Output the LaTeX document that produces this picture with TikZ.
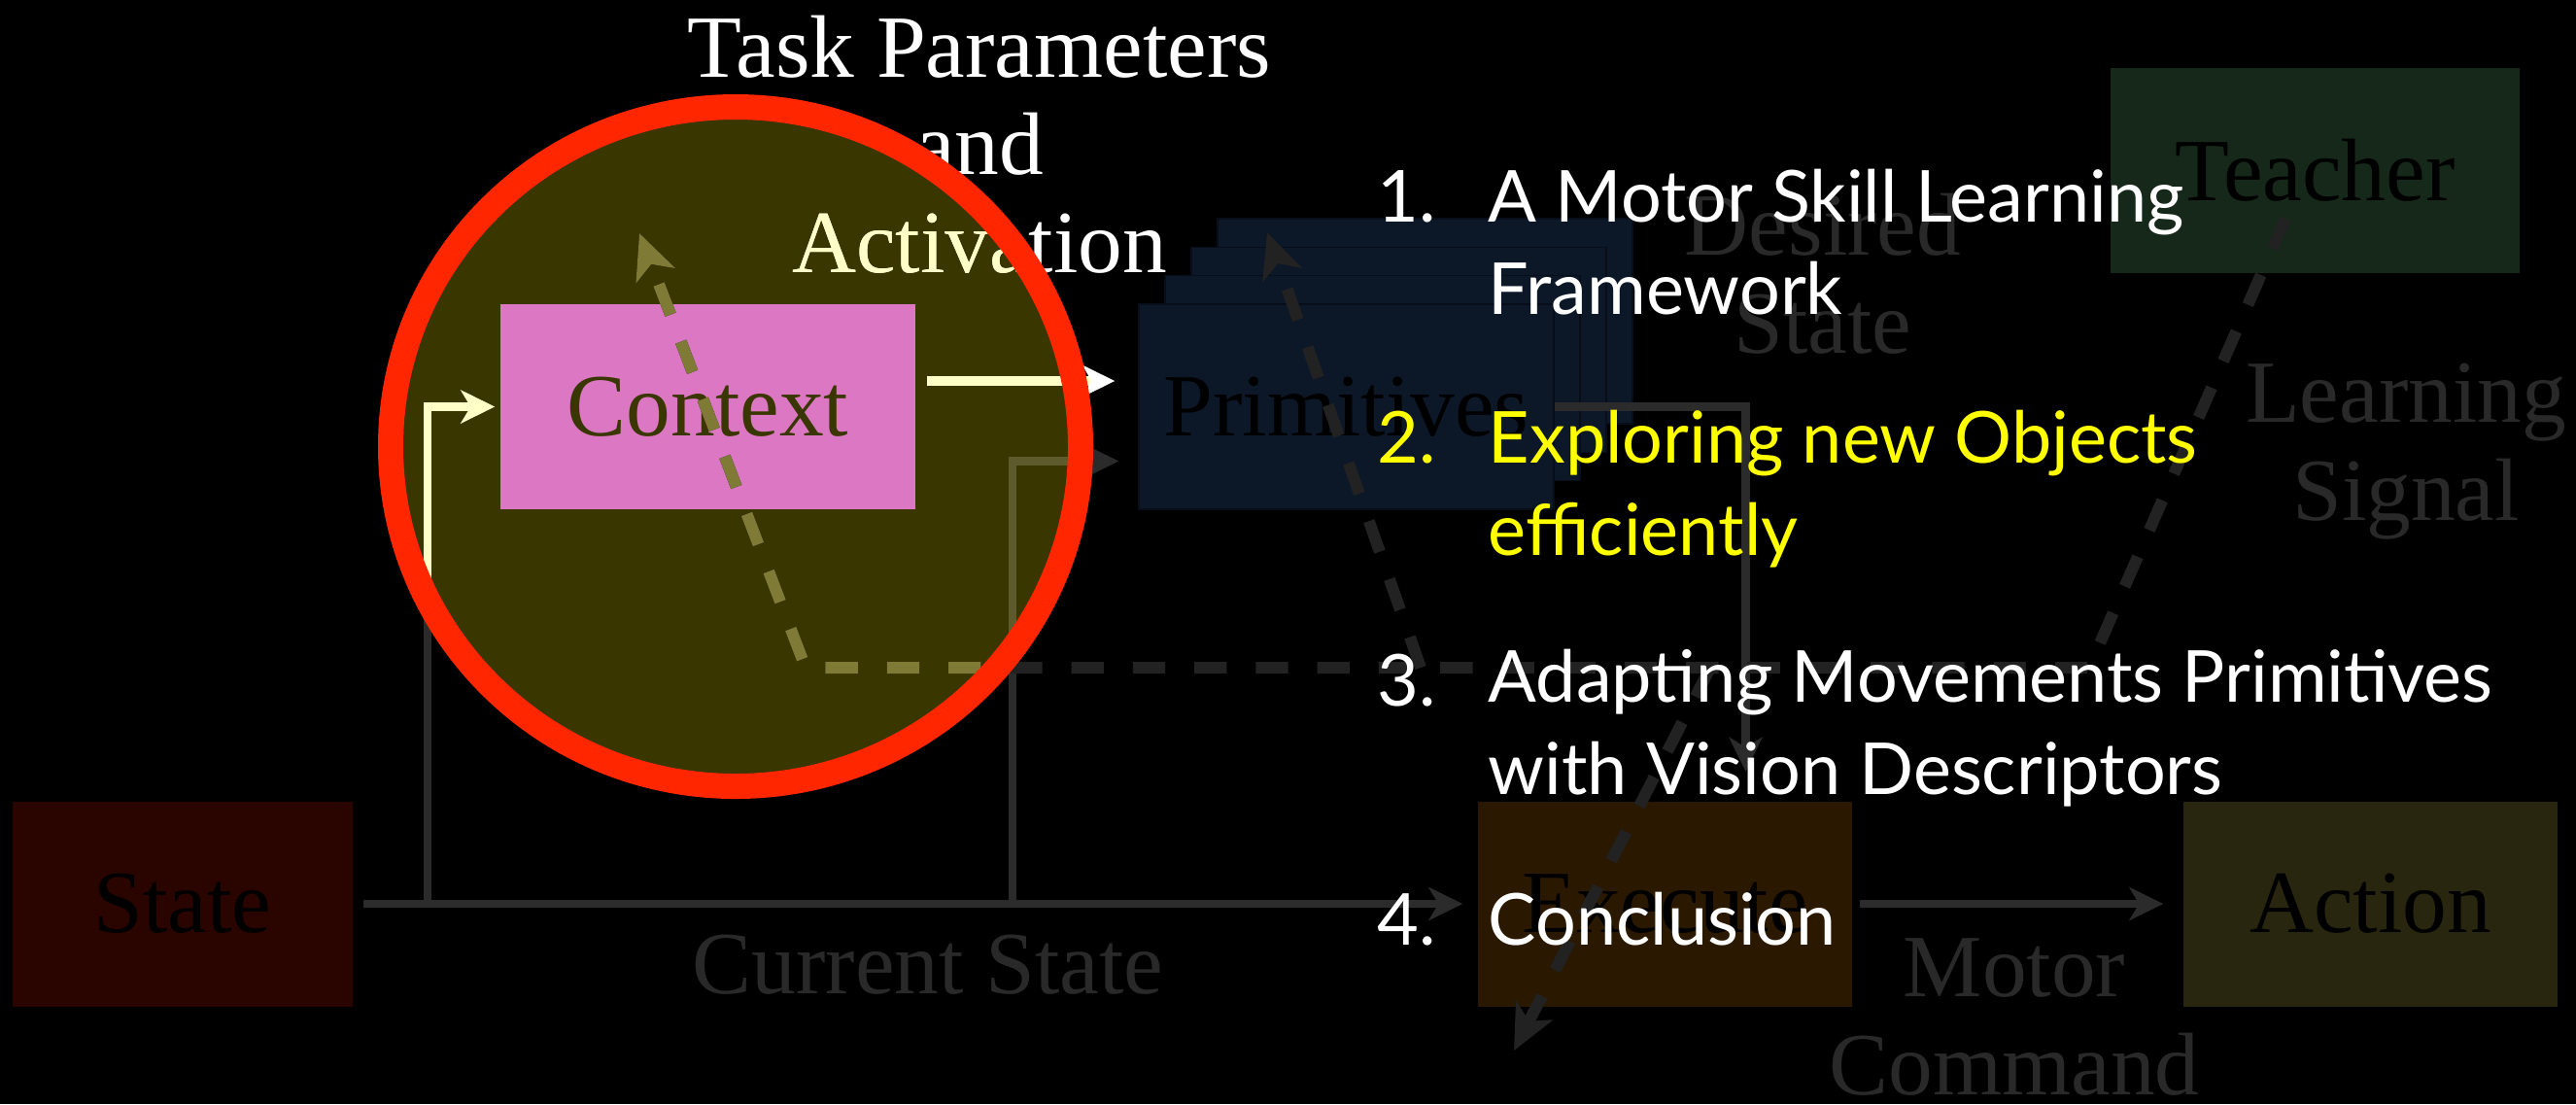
\documentclass[tikz,border=0pt]{standalone}
\usepackage{fontspec}
\setmainfont{Liberation Serif}
\newfontfamily\listfont{Lato}
\usetikzlibrary{arrows.meta,calc}

\definecolor{ringred}{HTML}{FF2600}
\definecolor{spotfill}{HTML}{3A3600}
\definecolor{ctxpink}{HTML}{DC78C3}
\definecolor{cream}{HTML}{FFFFC8}
\definecolor{olivedash}{HTML}{7F7A36}
\definecolor{olivegrey}{HTML}{5D5A2E}
\definecolor{greyline}{HTML}{2B2B2B}
\definecolor{greydash}{HTML}{222222}
\definecolor{greytext}{HTML}{292929}
\definecolor{primblue}{HTML}{0C1728}
\definecolor{primedge}{HTML}{070E1A}
\definecolor{teachgreen}{HTML}{15281A}
\definecolor{statered}{HTML}{2A0500}
\definecolor{execbrown}{HTML}{2A1800}
\definecolor{actolive}{HTML}{28260F}
\definecolor{itemyellow}{HTML}{FFFF00}

\begin{document}
\begin{tikzpicture}[
    box/.style={minimum width=4.27cm, minimum height=2.11cm, inner sep=0pt,
        font=\fontsize{26}{28.5}\selectfont, text=black},
    conn/.style={line width=2.4pt, greyline,
        -{Stealth[length=3.5mm,width=3.4mm,inset=1mm]}, shorten >=2mm},
    lsdash/.style={line width=3.4pt, greydash, dash pattern=on 9.5pt off 8.5pt,
        -{Stealth[length=4.6mm,width=4.2mm,inset=1.2mm]}},
    serif label/.style={font=\fontsize{26}{28.5}\selectfont, align=center, anchor=base},
    item/.style={anchor=base west, inner sep=0pt, font=\listfont\fontsize{21}{27}\selectfont,
        align=left, text=white}
]
    % Hatter
    \fill[black] (0,0) rectangle (26.51,-11.36);
    \useasboundingbox (0,0) rectangle (26.51,-11.36);

    % Kiemelt terulet (kitoltes)
    \fill[spotfill] (7.57,-4.595) ellipse [x radius=3.55, y radius=3.495];

    % Dobozok
    \node[box, fill=statered, minimum width=3.50cm] (state) at (1.88,-9.30) {State};
    \foreach \k in {3,2,1}
        \filldraw[fill=primblue, draw=primedge] (11.72+0.27*\k,-5.24+0.293*\k) rectangle +(4.27,2.11);
    \node[box, fill=primblue, draw=primedge] (prim) at (13.855,-4.185) {Primitives};
    \node[box, fill=execbrown, minimum width=3.85cm] (exec) at (17.135,-9.30) {Execute};
    \node[box, fill=actolive, minimum width=3.85cm] (act) at (24.395,-9.30) {Action};
    \node[box, fill=teachgreen, minimum width=4.21cm] (teach) at (23.825,-1.755) {Teacher};
    \node[box, fill=ctxpink, text=spotfill] (ctx) at (7.285,-4.185) {Context};

    % Halvany feliratok (base = utolso sor)
    \node[serif label, text=greytext] (desired) at (18.76,-3.63) {Desired\\State};
    \node[serif label, text=greytext] (lsignal) at (24.76,-5.35) {Learning\\Signal};
    \node[serif label, text=greytext] (curstate) at (9.55,-10.22) {Current State};
    \node[serif label, text=greytext] (motor) at (20.73,-11.26) {Motor\\Command};
    \node[serif label, text=white] (taskpar) at (10.08,-2.80) {Task Parameters\\and\\Activation};

    % Segedpontok
    \coordinate (cs1) at (4.40,-9.30);
    \coordinate (cs2) at (10.42,-9.30);
    \coordinate (down) at ($(exec.north)+(0.83,0)$);
    \coordinate (ls0) at (23.52,-2.25);
    \coordinate (ls1) at (21.50,-6.87);
    \coordinate (lsc) at (8.29,-6.87);
    \coordinate (lsp) at (14.62,-6.87);
    \coordinate (lse) at (17.60,-6.87);
    \coordinate (ctxtip) at (6.58,-2.40);
    \coordinate (primtip) at (13.04,-2.39);
    \coordinate (exectip) at (15.58,-10.81);

    % Szurke nyilak
    \draw[conn, shorten <=1mm, shorten >=1.5mm] (state.east) -- (exec.west);
    \draw[conn, shorten <=0.7mm] (exec.east) -- (act.west);
    \draw[conn, shorten >=0.5mm] (cs1) |- (ctx.west);
    \draw[conn] (cs2) |- ($(prim.west)+(0,-0.56)$);
    \draw[conn, shorten >=3mm] (prim.east) -| (down);

    % Szaggatott tanulasi jel
    \draw[lsdash] (ls0) -- (ls1) -- (lsc) -- (ctxtip);
    \draw[lsdash] (lsp) -- (primtip);
    \draw[lsdash] (lse) -- (exectip);

    % Ellipszisen belul fenyesebb
    \begin{scope}
        \clip (7.57,-4.595) ellipse [x radius=3.55, y radius=3.495];
        \draw[conn, cream, shorten >=0.5mm] (cs1) |- (ctx.west);
        \draw[conn, olivegrey] (cs2) |- ($(prim.west)+(0,-0.56)$);
        \draw[lsdash, olivedash] (ls0) -- (ls1) -- (lsc) -- (ctxtip);
        \node[serif label, text=cream] at (taskpar.base) {Task Parameters\\and\\Activation};
    \end{scope}

    % Context -> Primitives
    \draw[line width=2.6pt, cream, -{Stealth[length=3.3mm,width=3.2mm,inset=.9mm,color=white]},
        shorten <=1.1mm, shorten >=2.4mm] ($(ctx.east)+(0,0.265)$) -- ($(prim.west)+(0,0.265)$);

    % Piros gyuru
    \draw[ringred, line width=0.26cm] (7.57,-4.595) ellipse [x radius=3.55, y radius=3.495];

    % Felsorolas (base = utolso sor)
    \node[item] (n1) at (14.17,-2.28) {1.};
    \node[item] (i1) at (15.31,-3.23) {A Motor Skill Learning\\Framework};
    \node[item, text=itemyellow] (n2) at (14.17,-4.76) {2.};
    \node[item, text=itemyellow] (i2) at (15.31,-5.71) {Exploring new Objects\\efficiently};
    \node[item] (n3) at (14.17,-7.26) {3.};
    \node[item] (i3) at (15.31,-8.17) {Adapting Movements Primitives\\with Vision Descriptors};
    \node[item] (n4) at (14.17,-9.72) {4.};
    \node[item] (i4) at (15.31,-9.72) {Conclusion};
\end{tikzpicture}
\end{document}
